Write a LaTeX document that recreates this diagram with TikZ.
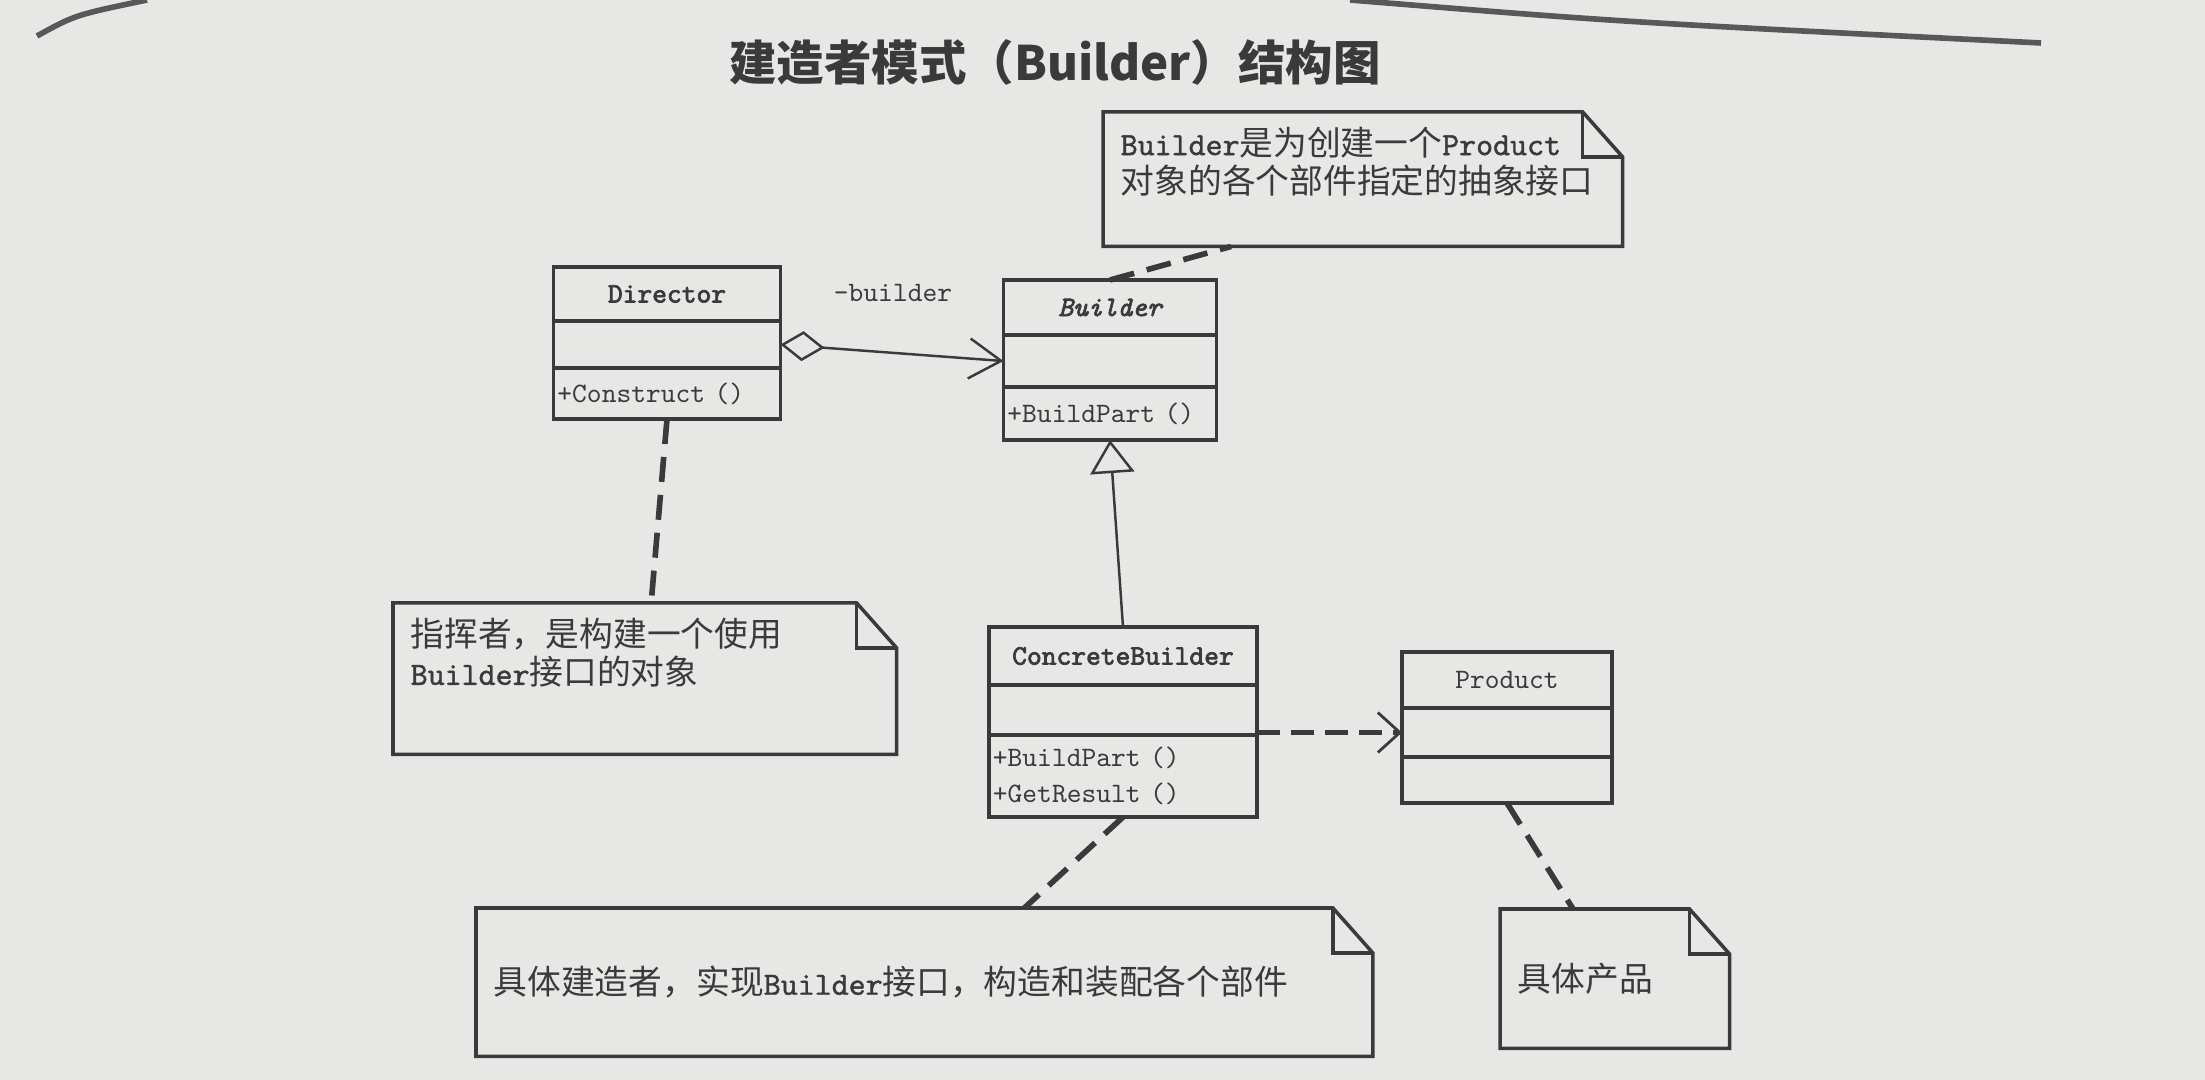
\documentclass[tikz,border=0pt]{standalone}
\usepackage{fontspec}
\usepackage{xcolor}
\usetikzlibrary{positioning,arrows.meta}
\newfontfamily\cjk{Noto Sans CJK SC}
\newfontfamily\codefont{lmmono10-regular.otf}[BoldFont=lmmono10-regular.otf,
  BoldFeatures={FakeBold=2.5}, ItalicFont=lmmono10-italic.otf,
  BoldItalicFont=lmmono10-italic.otf, BoldItalicFeatures={FakeBold=2.5}]
\newfontfamily\notelatin{lmmono10-regular.otf}[FakeBold=1.2]
\newcommand\en[1]{{\notelatin\fontsize{9.2}{11}\selectfont #1}}
\definecolor{ink}{RGB}{58,58,58}
\definecolor{paper}{RGB}{231,231,229}

\begin{document}
\begin{tikzpicture}[x=0.01cm, y=-0.01cm]
\tikzstyle{every node}=[text=ink]
\tikzstyle{box}=[draw=ink, line width=1pt, inner sep=0pt, outer sep=0pt,
                 anchor=north, font=\codefont\fontsize{8}{10}\selectfont]
\tikzstyle{boxname}=[box, font=\codefont\bfseries\fontsize{8}{10}\selectfont]
\tikzstyle{boxops}=[box, align=left, inner xsep=0.04cm]
\tikzstyle{note}=[anchor=north west, inner xsep=0.17cm, inner ysep=0.14cm,
                  font=\cjk\fontsize{9.6}{11}\selectfont]
\tikzstyle{noteline}=[draw=ink, line width=1pt]
\tikzstyle{anchorline}=[draw=ink, line width=1.6pt, dash pattern=on 0.25cm off 0.13cm]
\tikzstyle{depline}=[draw=ink, line width=1.5pt, dash pattern=on 0.23cm off 0.11cm,
                     -{Straight Barb[length=0.22cm, width=0.4cm, line width=0.8pt]}]
\tikzstyle{aggline}=[draw=ink, line width=0.7pt,
                     {Diamond[open, length=0.44cm, width=0.3cm]}-{Straight Barb[length=0.32cm, width=0.4cm]}]
\tikzstyle{genline}=[draw=ink, line width=0.7pt, -{Triangle[open, length=0.33cm, width=0.44cm]}]
\tikzstyle{pageedge}=[draw=ink!85, line width=1.6pt]

\useasboundingbox (0,0) rectangle (2205,1080);
\fill[paper] (0,0) rectangle (2205,1080);
\draw[pageedge] (37,36) .. controls (75,15) .. (147,0);
\draw[pageedge] (1350,0) .. controls (1620,22) .. (2041,43);

\node[font=\cjk\bfseries\fontsize{13.5}{16}\selectfont] (title) at (1055,62) {建造者模式（Builder）结构图};

% Director
\node[boxname, minimum width=2.27cm, minimum height=0.54cm] (dirname) at (667,267) {Director};
\node[box, minimum width=2.27cm, minimum height=0.47cm, below=0pt of dirname] (dirattr) {};
\node[boxops, text width=2.19cm, minimum height=0.51cm, below=0pt of dirattr] (dirops) {+Construct ()};

% Builder
\node[boxname, minimum width=2.13cm, minimum height=0.55cm] (bldname) at (1110,280) {\itshape Builder};
\node[box, minimum width=2.13cm, minimum height=0.52cm, below=0pt of bldname] (bldattr) {};
\node[boxops, text width=2.05cm, minimum height=0.53cm, below=0pt of bldattr] (bldops) {+BuildPart ()};

% ConcreteBuilder
\node[boxname, minimum width=2.68cm, minimum height=0.58cm] (cbname) at (1123,627) {ConcreteBuilder};
\node[box, minimum width=2.68cm, minimum height=0.50cm, below=0pt of cbname] (cbattr) {};
\node[boxops, text width=2.60cm, minimum height=0.82cm, below=0pt of cbattr,
      font=\codefont\fontsize{8}{10.2}\selectfont] (cbops) {+BuildPart ()\\+GetResult ()};

% Product
\node[box, minimum width=2.10cm, minimum height=0.56cm] (proname) at (1507,652) {Product};
\node[box, minimum width=2.10cm, minimum height=0.49cm, below=0pt of proname] (proattr) {};
\node[box, minimum width=2.10cm, minimum height=0.46cm, below=0pt of proattr] (proops) {};

% notes
\node[note] (nbuilder) at (1103,112)
  {\parbox[t][1.05cm][t]{4.84cm}{\en{Builder}是为创建一个\en{Product}\\对象的各个部件指定的抽象接口}};
\node[note] (ndirector) at (393,603)
  {\parbox[t][1.22cm][t]{4.68cm}{指挥者，是构建一个使用\\\en{Builder}接口的对象}};
\node[note] (nconcrete) at (476,908)
  {\parbox[t][1.19cm][c]{8.61cm}{具体建造者，实现\en{Builder}接口，构造和装配各个部件}};
\node[note] (nproduct) at (1500,909)
  {\parbox[t][1.10cm][c]{1.94cm}{具体产品}};
\foreach \n in {nbuilder,ndirector,nconcrete,nproduct}{
  \draw[noteline] (\n.south west) -- (\n.north west) -- ([xshift=-0.4cm]\n.north east)
    -- ([yshift=-0.45cm]\n.north east) -- (\n.south east) -- cycle;
  \draw[noteline] ([xshift=-0.4cm]\n.north east) |- ([yshift=-0.45cm]\n.north east);
}

\coordinate (nbuilderpin) at ([xshift=1.28cm]nbuilder.south west);
\coordinate (ndirectorpin) at ([xshift=2.58cm]ndirector.north west);
\coordinate (nconcretepin) at ([xshift=5.48cm]nconcrete.north west);
\coordinate (nproductpin) at ([xshift=0.73cm]nproduct.north west);
\foreach \i/\j in {bldname.north/nbuilderpin, dirops.south/ndirectorpin,
                   cbops.south/nconcretepin, proops.south/nproductpin}{\draw[anchorline] (\i) -- (\j);}

\draw[aggline] (dirattr.east) -- (bldattr.west);
\node[font=\codefont\fontsize{8}{10}\selectfont] (rolebuilder) at (893,293) {-builder};
\draw[genline] (cbname.north) -- (bldops.south);
\draw[depline] (cbattr.east |- proattr.west) -- (proattr.west);
\end{tikzpicture}
\end{document}
